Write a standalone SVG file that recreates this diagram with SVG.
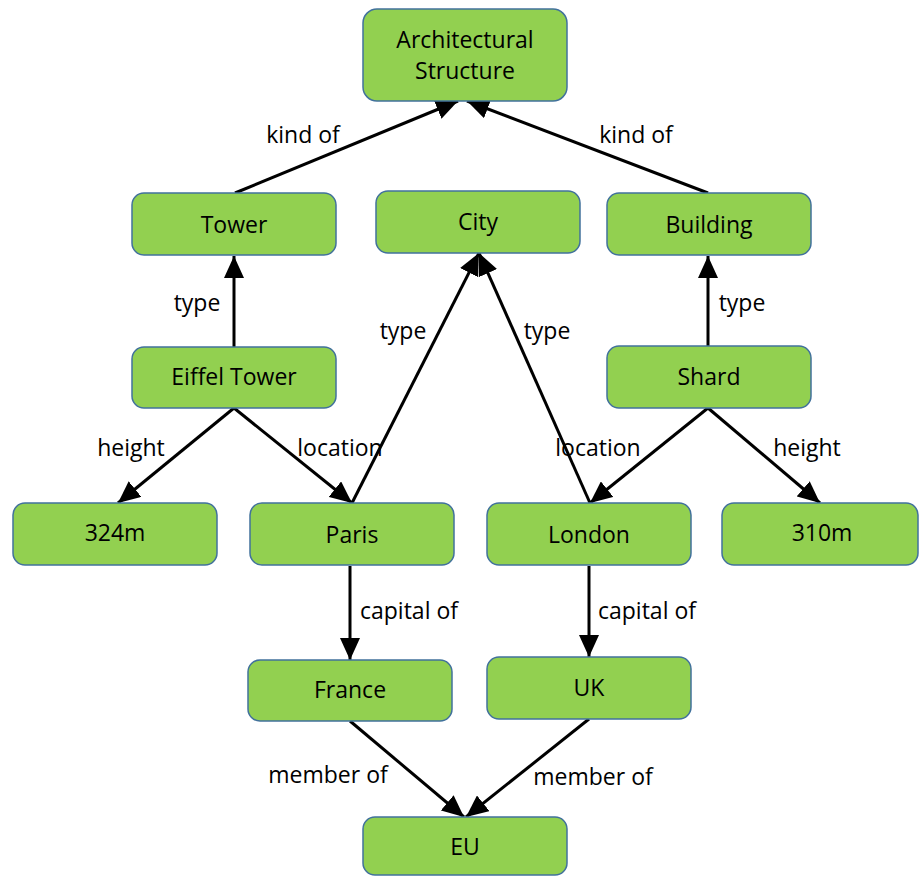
<svg xmlns="http://www.w3.org/2000/svg" width="920" height="876" viewBox="0 0 920 876">
<style>
.n rect{fill:#92D050;stroke:#41719C;stroke-width:1.5}
text{font-family:"Open Sans","Liberation Sans",sans-serif;font-size:23px;fill:#000;text-anchor:middle;dominant-baseline:central}
.e line{stroke:#000;stroke-width:3;marker-end:url(#ah)}
</style>
<defs>
<marker id="ah" markerUnits="userSpaceOnUse" markerWidth="22" markerHeight="20" viewBox="0 0 22 20" refX="22" refY="10" orient="auto">
<path d="M0,0 L22,10 L0,20 Z" fill="#000"/>
</marker>
</defs>
<rect width="920" height="876" fill="#fff"/>
<g id="connectors" class="e">
<line x1="235" y1="193" x2="458" y2="101"/>
<line x1="708" y1="193" x2="467" y2="101"/>
<line x1="234" y1="347" x2="234" y2="256"/>
<line x1="708" y1="346" x2="708" y2="256"/>
<line x1="352" y1="503" x2="479" y2="253"/>
<line x1="590" y1="503" x2="479" y2="253"/>
<line x1="234" y1="408" x2="118" y2="503"/>
<line x1="234" y1="408" x2="352" y2="503"/>
<line x1="708" y1="408" x2="590" y2="503"/>
<line x1="708" y1="408" x2="820" y2="503"/>
<line x1="350" y1="566" x2="350" y2="660"/>
<line x1="589" y1="566" x2="589" y2="657"/>
<line x1="350" y1="721" x2="464" y2="817"/>
<line x1="589" y1="719" x2="466" y2="817"/>
</g>
<g id="labels">
<text x="303" y="134">kind of</text>
<text x="636" y="134">kind of</text>
<text x="197" y="302">type</text>
<text x="742" y="302">type</text>
<text x="403" y="330">type</text>
<text x="547" y="330">type</text>
<text x="131" y="447">height</text>
<text x="340" y="447">location</text>
<text x="598" y="447">location</text>
<text x="807" y="447">height</text>
<text x="409" y="610">capital of</text>
<text x="647" y="610">capital of</text>
<text x="328" y="774">member of</text>
<text x="593" y="776">member of</text>
</g>
<g id="n-arch" class="n"><rect x="363" y="9" width="204" height="92" rx="14"/><text x="465" y="39">Architectural</text><text x="465" y="70">Structure</text></g>
<g id="n-tower" class="n"><rect x="132" y="193" width="204" height="62" rx="12"/><text x="234" y="224">Tower</text></g>
<g id="n-city" class="n"><rect x="376" y="191" width="204" height="62" rx="12"/><text x="478" y="221">City</text></g>
<g id="n-building" class="n"><rect x="607" y="193" width="204" height="62" rx="12"/><text x="709" y="224">Building</text></g>
<g id="n-eiffel" class="n"><rect x="132" y="347" width="204" height="61" rx="12"/><text x="234" y="376">Eiffel Tower</text></g>
<g id="n-shard" class="n"><rect x="607" y="346" width="204" height="62" rx="12"/><text x="709" y="376">Shard</text></g>
<g id="n-324" class="n"><rect x="13" y="503" width="204" height="62" rx="12"/><text x="115" y="532">324m</text></g>
<g id="n-paris" class="n"><rect x="250" y="503" width="204" height="62" rx="12"/><text x="352" y="534">Paris</text></g>
<g id="n-london" class="n"><rect x="487" y="503" width="204" height="62" rx="12"/><text x="589" y="534">London</text></g>
<g id="n-310" class="n"><rect x="722" y="503" width="196" height="62" rx="12"/><text x="822" y="532">310m</text></g>
<g id="n-france" class="n"><rect x="248" y="660" width="204" height="61" rx="12"/><text x="350" y="689">France</text></g>
<g id="n-uk" class="n"><rect x="487" y="657" width="204" height="62" rx="12"/><text x="589" y="687">UK</text></g>
<g id="n-eu" class="n"><rect x="363" y="817" width="204" height="58" rx="12"/><text x="465" y="846">EU</text></g>
</svg>
